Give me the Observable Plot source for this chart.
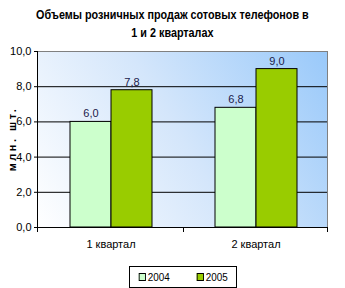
<!DOCTYPE html>
<html><head><meta charset="utf-8">
<script src="https://cdn.jsdelivr.net/npm/d3@7"></script>
<script src="https://cdn.jsdelivr.net/npm/@observablehq/plot@0.6"></script>
<style>
body{margin:0;background:#fff}
#c{position:relative;width:345px;height:288px;overflow:hidden;font-family:"Liberation Sans",Arial,sans-serif}
#title{position:absolute;left:0;top:6px;width:345px;text-align:center;font-weight:bold;font-size:13px;line-height:18px;color:#000;transform:scaleX(0.83);transform-origin:172px 0}
#ylab{position:absolute;left:12px;top:139px;transform:translate(-50%,-50%) rotate(-90deg);font-weight:bold;font-size:11px;letter-spacing:2.5px;white-space:nowrap}
#legend{position:absolute;left:129px;top:266px;width:106px;height:20px;border:1px solid #000;background:#fff;font-size:11px;display:flex;align-items:center;justify-content:center;gap:24px}
#legend .it{transform:scaleX(0.9)}
#legend span.sw{display:inline-block;width:6px;height:6px;border:1px solid #000;margin-right:2px;vertical-align:middle;position:relative;top:-1px}
#plot{position:absolute;left:0;top:0}
</style></head>
<body>
<div id="c">
  <div id="plot"></div>
  <div id="title">Объемы розничных продаж сотовых телефонов в<br>1 и 2 кварталах</div>
  <div id="ylab">млн. шт.</div>
  <div id="legend"></div>
</div>
<script>
const quarters = ["1 квартал", "2 квартал"];
const years = ["2004", "2005"];
const sales2004 = [6.0, 6.8];
const sales2005 = [7.8, 9.0];
const yTicks = [0, 2, 4, 6, 8, 10];
const colors = ["#CCFFCC", "#99CC00"];

const data = [];
quarters.forEach((q, i) => {
  data.push({quarter: q, year: years[0], value: sales2004[i]});
  data.push({quarter: q, year: years[1], value: sales2005[i]});
});
const fmt = d => d.toFixed(1).replace(".", ",");

const plot = Plot.plot({
  width: 345, height: 288,
  marginTop: 51, marginBottom: 61, marginLeft: 37, marginRight: 17,
  style: {fontFamily: '"Liberation Sans",Arial,sans-serif', fontSize: "11px", background: "transparent", color: "#000"},
  fx: {domain: quarters, padding: 0, label: null},
  x: {domain: years, paddingInner: 0, paddingOuter: 0.753, axis: null},
  y: {domain: [0, 10], label: null},
  color: {domain: years, range: colors},
  marks: [
    Plot.gridY([2, 4, 6, 8], {stroke: "#000", strokeOpacity: 1}),
    Plot.barY(data, {fx: "quarter", x: "year", y: "value", fill: "year", stroke: "#000", strokeWidth: 1}),
    Plot.text(data, {fx: "quarter", x: "year", y: "value", text: d => fmt(d.value), dy: -8, fill: "#1a1a4a", fontSize: 11}),
    Plot.axisY(yTicks, {tickFormat: fmt, tickSize: 4, tickPadding: 3, stroke: "#000", fill: "#000", fontSize: 11}),
    Plot.axisFx({anchor: "bottom", tickSize: 0, tickPadding: 13, label: null, fontSize: 11})
  ]
});
document.getElementById("plot").appendChild(plot);

// background, borders, axis lines using the plot's scales
const svg = d3.select(plot);
const y = plot.scale("y"), fx = plot.scale("fx");
const B = y.apply(0), T = y.apply(10);
const L = fx.range[0], R = fx.range[1];
const defs = svg.insert("defs", ":first-child");
const g = defs.append("linearGradient").attr("id", "bg").attr("gradientUnits", "userSpaceOnUse")
  .attr("x1", L).attr("y1", B).attr("x2", R).attr("y2", T);
g.append("stop").attr("offset", 0).attr("stop-color", "#ffffff");
g.append("stop").attr("offset", 0.5).attr("stop-color", "#d4e6fb");
g.append("stop").attr("offset", 1).attr("stop-color", "#99c9fa");
svg.insert("rect", "defs + *").attr("x", L).attr("y", T).attr("width", R - L).attr("height", B - T).attr("fill", "url(#bg)");
const lines = svg.append("g").attr("stroke-width", 1);
lines.append("line").attr("x1", L).attr("x2", R).attr("y1", T + 0.5).attr("y2", T + 0.5).attr("stroke", "#808080");
lines.append("line").attr("x1", R - 0.5).attr("x2", R - 0.5).attr("y1", T).attr("y2", B).attr("stroke", "#808080");
lines.append("line").attr("x1", L + 0.5).attr("x2", L + 0.5).attr("y1", T).attr("y2", B + 5).attr("stroke", "#000");
lines.append("line").attr("x1", L).attr("x2", R).attr("y1", B + 0.5).attr("y2", B + 0.5).attr("stroke", "#000");
quarters.slice(1).map(q => fx.apply(q)).concat([R - 1]).forEach(xv => {
  lines.append("line").attr("x1", xv + 0.5).attr("x2", xv + 0.5).attr("y1", B).attr("y2", B + 5).attr("stroke", "#000");
});

// legend
const leg = d3.select("#legend");
years.forEach((yr, i) => {
  const it = leg.append("div").attr("class", "it");
  it.append("span").attr("class", "sw").style("background", colors[i]);
  it.append("span").text(yr);
});
</script>
</body></html>
